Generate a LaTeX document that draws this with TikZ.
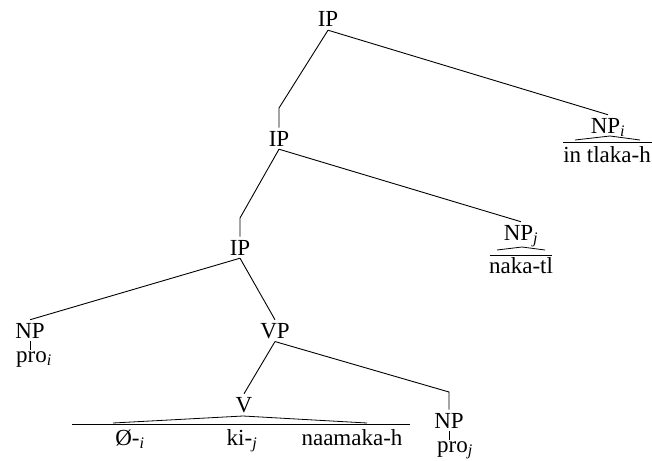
\documentclass[tikz,border=0pt]{standalone}
\usepackage{fontspec}
\setmainfont{Liberation Serif}
\begin{document}
\begin{tikzpicture}[x=1pt,y=-1pt,
  lbl/.style={inner xsep=0pt, inner ysep=3pt, anchor=base, font=\fontsize{23}{27}\selectfont},
  word/.style={lbl, inner ysep=1pt},
  branch/.style={line width=0.9pt},
  roof/.style={line width=0.8pt}]
\useasboundingbox (0,0) rectangle (652,460);

% category labels
\node[lbl] (ip1) at (328,27) {IP};
\node[lbl] (ip2) at (279,146) {IP};
\node[lbl] (ip3) at (240,255) {IP};
\node[lbl] (npi) at (608,133) {NP\textsubscript{\textit{i}}};
\node[lbl] (npj) at (521,240) {NP\textsubscript{\textit{j}}};
\node[lbl] (np1) at (30,338) {NP};
\node[lbl] (vp) at (275,338) {VP};
\node[lbl] (v) at (244,412) {V};
\node[lbl] (np2) at (449,428) {NP};

% terminal strings
\node[word] (tlaka) at (607,162) {in tlaka-h};
\node[word] (naka) at (521,273) {naka-tl};
\node[word] (proi) at (34,362) {pro\textsubscript{\textit{i}}};
\node[word] (proj) at (455,452) {pro\textsubscript{\textit{j}}};
\node[word] (zero) at (130,445) {Ø-\textsubscript{\textit{i}}};
\node[word] (ki) at (242,445) {ki-\textsubscript{\textit{j}}};
\node[word] (naam) at (352,445) {naamaka-h};

% bend points of the branches
\coordinate (k1) at (279,108);
\coordinate (k2) at (240,218);
\coordinate (k3) at (449,392);

% branches
\draw[branch] (ip1.south) -- (npi.north);
\draw[branch] (ip1.south) -- (k1) -- (ip2.north);
\draw[branch] (ip2.south) -- (npj.north);
\draw[branch] (ip2.south) -- (k2) -- (ip3.north);
\draw[branch] (ip3.south) -- (np1.north);
\draw[branch] (ip3.south) -- (vp.north);
\draw[branch] (vp.south) -- (v.north);
\draw[branch] (vp.south) -- (k3) -- (np2.north);
\draw[branch] (np1.south) -- (np1.south |- proi.north);
\draw[branch] (np2.south) -- (np2.south |- proj.north);

% roofs over unanalysed constituents
\draw[roof] (575,140) -- (610,136) -- (640,140);
\draw[roof] (563,142) -- (652,142);
\draw[roof] (497,250) -- (522,247) -- (545,250);
\draw[roof] (490,255) -- (552,255);
\draw[roof] (113,423) -- (243,416) -- (367,423);
\draw[roof] (72,424) -- (410,424);
\end{tikzpicture}
\end{document}
